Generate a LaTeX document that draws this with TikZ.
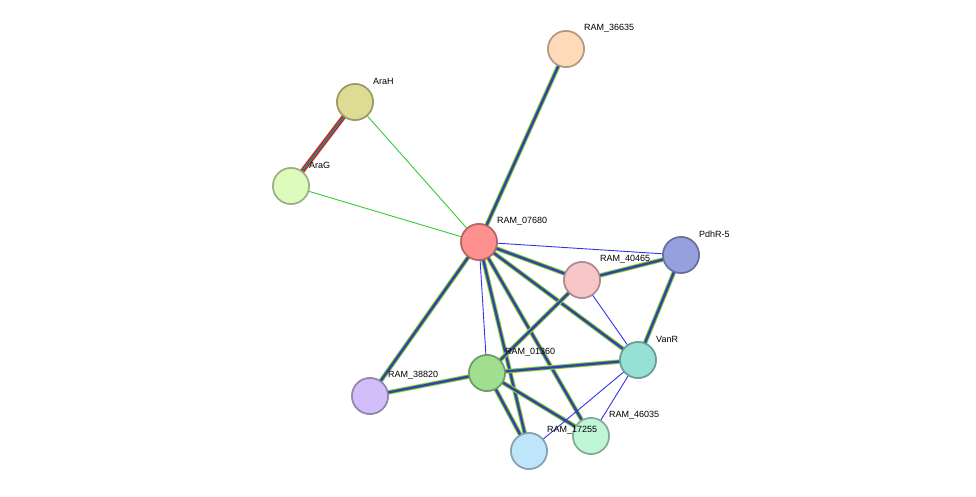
\documentclass[tikz,border=0pt]{standalone}
\usepackage{fontspec}
\setmainfont{Liberation Sans}
\begin{document}
\begin{tikzpicture}[x=1pt,y=-1pt,
    prot/.style={circle, draw=#1!70!black, fill=#1, line width=1.6pt, minimum size=36pt, inner sep=0pt},
    lbl/.style={anchor=west, inner sep=0pt, font=\fontsize{9}{10}\selectfont},
    single/.style={line width=0.9pt, draw=#1}
]
\useasboundingbox (0,0) rectangle (976,497);
\definecolor{cRed}{HTML}{FF9090}
\definecolor{cPeach}{HTML}{FFDAB9}
\definecolor{cOlive}{HTML}{DEDB94}
\definecolor{cLime}{HTML}{DEFBBE}
\definecolor{cBlue}{HTML}{96A0DE}
\definecolor{cPink}{HTML}{F6C6C8}
\definecolor{cTeal}{HTML}{96E0D6}
\definecolor{cGreen}{HTML}{A0DE90}
\definecolor{cLav}{HTML}{D2BEFA}
\definecolor{cMint}{HTML}{BEF6D6}
\definecolor{cSky}{HTML}{BEE6FA}
\definecolor{eGreen}{HTML}{33CC33}
\definecolor{eBlue}{HTML}{3333EE}
\definecolor{eYellow}{HTML}{CCCC44}

% Proteins
\node[prot=cPeach] (p36635) at (566,49) {};
\node[prot=cOlive] (araH) at (355,102) {};
\node[prot=cLime] (araG) at (291,186) {};
\node[prot=cRed] (p07680) at (479,242) {};
\node[prot=cBlue] (pdhR) at (681,255) {};
\node[prot=cPink] (p40465) at (582,280) {};
\node[prot=cTeal] (vanR) at (638,360) {};
\node[prot=cGreen] (p01360) at (487,373) {};
\node[prot=cLav] (p38820) at (370,396) {};
\node[prot=cMint] (p46035) at (591,436) {};
\node[prot=cSky] (p17255) at (529,451) {};

% Edges
\begin{scope}[on background layer/.style={}]
\foreach \a/\b in {p36635/p07680, p07680/p40465, p07680/vanR, p07680/p38820,
    p07680/p17255, p07680/p46035, p40465/pdhR, p40465/p01360, pdhR/vanR,
    vanR/p01360, p01360/p38820, p01360/p17255, p01360/p46035} {
  \draw[line width=4.6pt, eYellow] (\a.center) -- (\b.center);
  \draw[line width=3.4pt, eGreen] (\a.center) -- (\b.center);
  \draw[line width=2.2pt, eBlue] (\a.center) -- (\b.center);
  \draw[line width=0.6pt, black!70] (\a.center) -- (\b.center);
}
\draw[line width=5.4pt, eYellow] (araH.center) -- (araG.center);
\draw[line width=4.2pt, magenta] (araH.center) -- (araG.center);
\draw[line width=3pt, red!80!black] (araH.center) -- (araG.center);
\draw[line width=1.8pt, eGreen] (araH.center) -- (araG.center);
\draw[line width=0.6pt, eBlue] (araH.center) -- (araG.center);
\draw[single=eGreen] (araH) -- (p07680);
\draw[single=eGreen] (araG) -- (p07680);
\foreach \a/\b in {p07680/pdhR, p07680/p01360, p40465/vanR, vanR/p17255, vanR/p46035}
  \draw[single=eBlue] (\a.center) -- (\b.center);
\end{scope}

% Redraw nodes on top
\foreach \n/\c in {p36635/cPeach, araH/cOlive, araG/cLime, p07680/cRed, pdhR/cBlue,
    p40465/cPink, vanR/cTeal, p01360/cGreen, p38820/cLav, p46035/cMint, p17255/cSky}
  \node[prot=\c] at (\n) {};

% Labels
\node[lbl] (l36635) at ([shift={(18,-21)}]p36635.center) {RAM\_36635};
\node[lbl] (laraH) at ([shift={(18,-21)}]araH.center) {AraH};
\node[lbl] (laraG) at ([shift={(18,-21)}]araG.center) {AraG};
\node[lbl] (l07680) at ([shift={(18,-21)}]p07680.center) {RAM\_07680};
\node[lbl] (lpdhR) at ([shift={(18,-21)}]pdhR.center) {PdhR-5};
\node[lbl] (l40465) at ([shift={(18,-21)}]p40465.center) {RAM\_40465};
\node[lbl] (lvanR) at ([shift={(18,-21)}]vanR.center) {VanR};
\node[lbl] (l01360) at ([shift={(18,-21)}]p01360.center) {RAM\_01360};
\node[lbl] (l38820) at ([shift={(18,-21)}]p38820.center) {RAM\_38820};
\node[lbl] (l46035) at ([shift={(18,-21)}]p46035.center) {RAM\_46035};
\node[lbl] (l17255) at ([shift={(18,-21)}]p17255.center) {RAM\_17255};
\end{tikzpicture}
\end{document}
